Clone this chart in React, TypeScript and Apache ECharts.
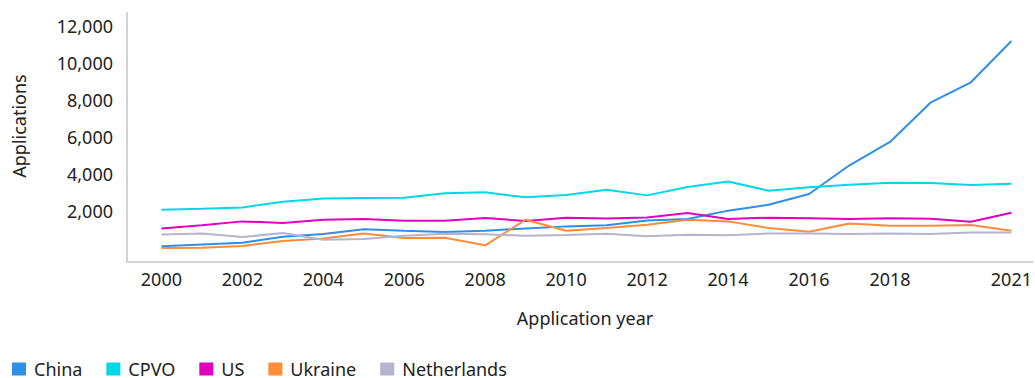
import React, { useEffect, useRef } from "react";
import * as echarts from "echarts";

const years: number[] = [2000, 2001, 2002, 2003, 2004, 2005, 2006, 2007, 2008, 2009, 2010, 2011, 2012, 2013, 2014, 2015, 2016, 2017, 2018, 2019, 2020, 2021];
const xTickLabels: number[] = [2000, 2002, 2004, 2006, 2008, 2010, 2012, 2014, 2016, 2018, 2021];
const yTickLabels: number[] = [2000, 4000, 6000, 8000, 10000, 12000];

const china: number[] = [110, 215, 310, 630, 775, 1030, 950, 885, 955, 1080, 1190, 1245, 1510, 1590, 2040, 2360, 2940, 4490, 5750, 7875, 8975, 11210];
const cpvo: number[] = [2090, 2145, 2215, 2520, 2700, 2720, 2740, 2975, 3030, 2760, 2885, 3170, 2865, 3320, 3620, 3120, 3300, 3440, 3550, 3530, 3425, 3495];
const us: number[] = [1080, 1245, 1460, 1370, 1550, 1590, 1500, 1500, 1640, 1480, 1660, 1620, 1675, 1910, 1590, 1660, 1625, 1590, 1625, 1605, 1445, 1930];
const ukraine: number[] = [20, 40, 130, 400, 540, 810, 560, 580, 165, 1550, 955, 1100, 1280, 1550, 1460, 1100, 900, 1350, 1225, 1225, 1260, 955];
const netherlands: number[] = [757, 810, 615, 830, 470, 505, 685, 795, 760, 690, 720, 795, 650, 740, 705, 810, 810, 775, 810, 775, 865, 865];

const seriesNames = ["China", "CPVO", "US", "Ukraine", "Netherlands"];
const seriesData = [china, cpvo, us, ukraine, netherlands];
const colors = ["#2f8fe8", "#00d8e8", "#e000c0", "#ff8c38", "#b4b4cc"];

const FONT = "'Noto Sans', 'Open Sans', sans-serif";

export default function App() {
  const ref = useRef<HTMLDivElement>(null);
  useEffect(() => {
    if (!ref.current) return;
    const chart = echarts.init(ref.current, null, { renderer: "svg" });
    chart.setOption({
      animation: false,
      color: colors,
      textStyle: { fontFamily: FONT },
      grid: { left: 127, right: 2, top: 13, bottom: 116, containLabel: false },
      legend: {
        left: 12,
        top: 360,
        padding: 0,
        icon: "rect",
        itemWidth: 14,
        itemHeight: 13,
        itemGap: 24,
        textStyle: { fontSize: 18, lineHeight: 18, color: "#222", fontFamily: FONT, padding: [0, 0, 0, 3] },
        data: seriesNames,
      },
      xAxis: {
        type: "value",
        min: 1999.15,
        max: 2021.52,
        axisLine: { show: true, onZero: false, lineStyle: { color: "#d3d3d3", width: 2 } },
        axisTick: { show: false },
        splitLine: { show: false },
        axisLabel: {
          customValues: xTickLabels,
          formatter: (v: number) => String(v),
          fontSize: 18,
          color: "#222",
          fontFamily: FONT,
          margin: 8,
        },
      },
      yAxis: {
        type: "value",
        min: -735,
        max: 12720,
        axisLine: { show: true, onZero: false, lineStyle: { color: "#d3d3d3", width: 2 } },
        axisTick: { show: false },
        splitLine: { show: false },
        axisLabel: {
          customValues: yTickLabels,
          formatter: (v: number) => v.toLocaleString("en-US"),
          fontSize: 18,
          color: "#222",
          fontFamily: FONT,
          margin: 14,
        },
      },
      graphic: [
        {
          type: "text",
          x: 585,
          y: 318,
          style: {
            text: "Application year",
            fontSize: 18,
            fontFamily: FONT,
            fill: "#222",
            align: "center",
            verticalAlign: "middle",
          },
        },
        {
          type: "text",
          x: 19,
          y: 126,
          rotation: Math.PI / 2,
          style: {
            text: "Applications",
            fontSize: 18,
            fontFamily: FONT,
            fill: "#222",
            align: "center",
            verticalAlign: "middle",
          },
        },
      ],
      series: seriesNames.map((name, i) => ({
        name,
        type: "line",
        showSymbol: false,
        symbol: "none",
        lineStyle: { width: 2, color: colors[i] },
        itemStyle: { color: colors[i] },
        data: years.map((y, j) => [y, seriesData[i][j]]),
      })),
    });
    return () => chart.dispose();
  }, []);
  return (
    <div
      ref={ref}
      style={{ position: "absolute", left: 0, top: 0, width: 1035, height: 378 }}
    />
  );
}
